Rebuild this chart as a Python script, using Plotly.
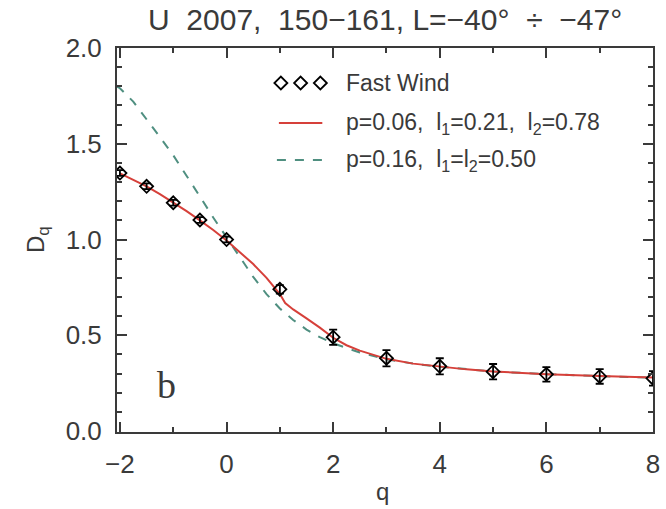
import plotly.graph_objects as go

# Observed generalized dimensions (fast wind)
q_obs = [-2, -1.5, -1, -0.5, 0, 1, 2, 3, 4, 5, 6, 7, 8]
d_obs = [1.347, 1.278, 1.192, 1.102, 1.0, 0.74, 0.49, 0.38, 0.338, 0.31, 0.296, 0.285, 0.275]
d_err = [0.015, 0.015, 0.015, 0.015, 0.015, 0.022, 0.04, 0.042, 0.042, 0.04, 0.038, 0.038, 0.038]

# Two-scale Cantor model, p=0.06, l1=0.21, l2=0.78
q_fit1 = [-2, -1.75, -1.5, -1.25, -1, -0.75, -0.5, -0.25, 0, 0.25, 0.5, 0.75, 1.0, 1.1,
          1.25, 1.5, 1.75, 2.0, 2.25, 2.5, 3, 3.5, 4, 4.5, 5, 6, 7, 8]
d_fit1 = [1.345, 1.313, 1.278, 1.237, 1.193, 1.148, 1.100, 1.050, 0.995, 0.935, 0.872, 0.800,
          0.715, 0.668, 0.635, 0.588, 0.540, 0.487, 0.448, 0.420, 0.377, 0.352, 0.336, 0.322,
          0.311, 0.297, 0.287, 0.279]

# One-scale model, p=0.16, l1=l2=0.50
q_fit2 = [-2.06, -2, -1.75, -1.5, -1.25, -1, -0.75, -0.5, -0.25, 0, 0.25, 0.5, 0.75, 1,
          1.25, 1.5, 1.75, 2, 2.5, 3, 3.5, 4, 5, 6, 7, 8]
d_fit2 = [1.80, 1.79, 1.72, 1.63, 1.535, 1.44, 1.335, 1.225, 1.115, 1.01, 0.905, 0.805, 0.715,
          0.640, 0.580, 0.530, 0.490, 0.458, 0.410, 0.375, 0.352, 0.336, 0.311, 0.297, 0.287,
          0.279]

x_ticks = [-2, 0, 2, 4, 6, 8]
y_ticks = [0.0, 0.5, 1.0, 1.5, 2.0]

SP = "\u00a0"
title_text = (f"U{SP*2}2007,{SP*2}150\u2212161,{SP}L=\u221240\u00b0{SP*2}\u00f7{SP*2}\u221247\u00b0")
legend_labels = ["Fast Wind",
                 f"p=0.06,{SP*2}l<sub>1</sub>=0.21,{SP*2}l<sub>2</sub>=0.78",
                 f"p=0.16,{SP*2}l<sub>1</sub>=l<sub>2</sub>=0.50"]

RED = "#d6403a"
GREEN = "#4f8f80"
AX = "#3a3a3a"
FONT = "Liberation Sans"

W, H = 666, 509
L, R, T, B = 117, 6, 48, 77

fig = go.Figure()

fig.add_trace(go.Scatter(x=q_fit2, y=d_fit2, mode="lines",
                         line=dict(color=GREEN, width=2, dash="dash")))
fig.add_trace(go.Scatter(x=q_fit1, y=d_fit1, mode="lines",
                         line=dict(color=RED, width=2)))
fig.add_trace(go.Scatter(x=q_obs, y=d_obs, mode="markers",
                         marker=dict(symbol="diamond-open", size=10, color="black",
                                     line=dict(width=1.8, color="black")),
                         error_y=dict(type="data", array=d_err, color="black",
                                      thickness=1.8, width=4)))

# Legend keys drawn on an overlay axis measured in pixels
rows = [83, 123, 160]
fig.add_trace(go.Scatter(x=[283, 303, 323], y=[rows[0]] * 3, mode="markers",
                         xaxis="x2", yaxis="y2",
                         marker=dict(symbol="diamond-open", size=10, color="black",
                                     line=dict(width=1.8, color="black"))))
fig.add_trace(go.Scatter(x=[281, 325], y=[rows[1]] * 2, mode="lines", xaxis="x2", yaxis="y2",
                         line=dict(color=RED, width=2)))
fig.add_trace(go.Scatter(x=[279, 325], y=[rows[2]] * 2, mode="lines", xaxis="x2", yaxis="y2",
                         line=dict(color=GREEN, width=2, dash="dash")))

axis_common = dict(showline=True, linecolor=AX, linewidth=2, mirror="ticks",
                   ticks="inside", ticklen=10, tickwidth=2, tickcolor=AX,
                   showgrid=False, zeroline=False,
                   tickfont=dict(family=FONT, size=26, color=AX))

fig.update_layout(
    width=W, height=H, autosize=False,
    margin=dict(l=L, r=R, t=T, b=B, pad=0),
    paper_bgcolor="white", plot_bgcolor="white",
    showlegend=False,
    xaxis=dict(range=[-2.055, 8.0], tickvals=x_ticks,
               ticktext=[str(v).replace("-", "\u2212") for v in x_ticks],
               minor=dict(dtick=1, tick0=0, ticks="inside", ticklen=5, tickwidth=2, tickcolor=AX),
               ticklabelstandoff=8, **axis_common),
    yaxis=dict(range=[-0.005, 2.0], tickvals=y_ticks, ticktext=[f"{v:.1f}" for v in y_ticks],
               minor=dict(dtick=0.1, tick0=0, ticks="inside", ticklen=5, tickwidth=2, tickcolor=AX),
               ticklabelstandoff=8, **axis_common),
    xaxis2=dict(range=[L, W - R], overlaying="x", visible=False, fixedrange=True),
    yaxis2=dict(range=[H - B, T], overlaying="y", visible=False, fixedrange=True),
)

px_x = lambda px: (px - L) / (W - L - R)
px_y = lambda py: (H - B - py) / (H - T - B)

ann = [
    dict(text=title_text, x=px_x(388), y=px_y(19), xref="paper", yref="paper",
         showarrow=False, xanchor="center", yanchor="middle",
         font=dict(family=FONT, size=30, color=AX)),
    dict(text="q", x=px_x(386), y=px_y(491), xref="paper", yref="paper",
         showarrow=False, xanchor="center", yanchor="middle",
         font=dict(family=FONT, size=24, color=AX)),
    dict(text="D<sub>q</sub>", x=px_x(36), y=px_y(240), xref="paper", yref="paper",
         showarrow=False, xanchor="center", yanchor="middle", textangle=-90,
         font=dict(family=FONT, size=24, color=AX)),
    dict(text="b", x=-1.12, y=0.24, xref="x", yref="y",
         showarrow=False, xanchor="center", yanchor="middle",
         font=dict(family="Liberation Serif", size=38, color=AX)),
]
for row, lab in zip(rows, legend_labels):
    ann.append(dict(text=lab, x=px_x(347), y=px_y(row), xref="paper", yref="paper",
                    showarrow=False, xanchor="left", yanchor="middle",
                    font=dict(family=FONT, size=23, color=AX)))
fig.update_layout(annotations=ann)

fig.write_html("out.html")
